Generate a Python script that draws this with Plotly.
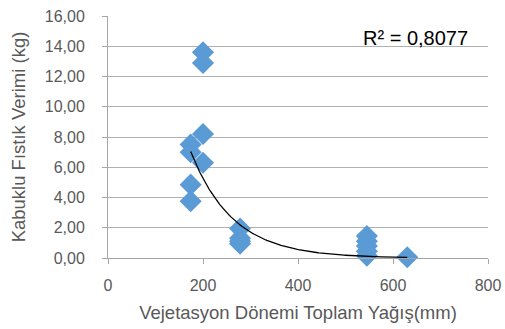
import numpy as np
import plotly.graph_objects as go

rain_mm = [200, 200, 200, 174, 174, 200, 174, 174, 278, 278, 278, 278, 545, 545, 545, 545, 545, 630]
yield_kg = [13.6, 12.9, 8.2, 7.5, 7.0, 6.3, 4.85, 3.75, 1.95, 1.3, 1.1, 0.95, 1.45, 1.1, 0.8, 0.45, 0.15, 0.05]

# exponential trendline y = a * exp(b x)
trend_a = 49.7
trend_b = -0.01123
r2_text = "R² = 0,8077"

x_ticks = [0, 200, 400, 600, 800]
y_ticks = [0, 2, 4, 6, 8, 10, 12, 14, 16]

tx = np.linspace(min(rain_mm), max(rain_mm), 200)
ty = trend_a * np.exp(trend_b * tx)

font_family = "Liberation Sans, Arial, sans-serif"
grey = "#595959"

fig = go.Figure()
fig.add_trace(go.Scatter(x=rain_mm, y=yield_kg, mode="markers",
                         marker=dict(symbol="diamond", size=17, color="#5B9BD5"),
                         showlegend=False, cliponaxis=False))
fig.add_trace(go.Scatter(x=tx, y=ty, mode="lines",
                         line=dict(color="black", width=1.3), showlegend=False))

fig.add_annotation(x=0.952, y=0.909, xref="paper", yref="paper", text=r2_text,
                   showarrow=False, xanchor="right", yanchor="middle",
                   font=dict(family=font_family, size=20, color="black"))

fig.update_layout(
    width=505, height=329,
    margin=dict(l=108, r=17, t=16, b=71),
    plot_bgcolor="white", paper_bgcolor="white",
    separators=",.",
    font=dict(family=font_family, size=16, color=grey),
)
fig.update_xaxes(range=[0, 800], tickvals=x_ticks, showgrid=False,
                 showline=True, linecolor="#a6a6a6", linewidth=1,
                 ticks="outside", ticklen=5, tickcolor="#a6a6a6",
                 zeroline=False, automargin=False, ticklabeloverflow="allow",
                 ticklabelstandoff=8,
                 title=dict(text="Vejetasyon Dönemi Toplam Yağış(mm)", standoff=12,
                            font=dict(size=18.5, color=grey)),
                 tickfont=dict(size=16, color=grey))
fig.update_yaxes(range=[0, 16], tickvals=y_ticks, tickformat=".2f",
                 showgrid=True, gridcolor="#b0b0b0", gridwidth=1,
                 showline=True, linecolor="#a6a6a6", linewidth=1,
                 ticks="outside", ticklen=5, tickcolor="#a6a6a6",
                 zeroline=False, automargin=False, ticklabeloverflow="allow",
                 ticklabelstandoff=14,
                 title=dict(text="Kabuklu Fıstık Verimi (kg)", standoff=14,
                            font=dict(size=18.5, color=grey)),
                 tickfont=dict(size=16, color=grey))

fig.write_html("out.html", config={"displayModeBar": False},
               post_script="document.body.style.margin='0';")
